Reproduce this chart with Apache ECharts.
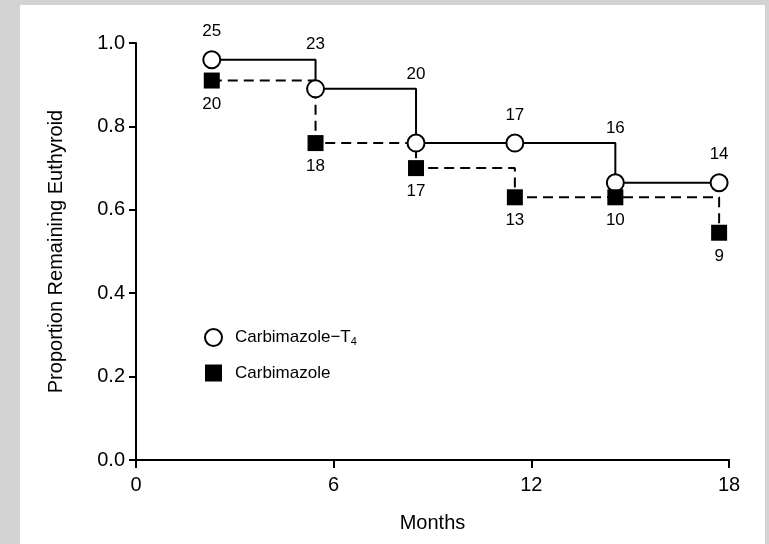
<!DOCTYPE html>
<html>
<head>
<meta charset="utf-8">
<script src="https://cdn.jsdelivr.net/npm/echarts@6/dist/echarts.min.js"></script>
<style>
  html, body { margin: 0; padding: 0; background: #d3d3d3; }
  #chart { position: absolute; left: 20px; top: 5px; width: 745px; height: 539px; background: #fff; }
</style>
</head>
<body>
<div id="chart"></div>
<script>
// months of each follow-up point
const months = [2.3, 5.45, 8.5, 11.5, 14.55, 17.7]
// proportion remaining euthyroid
const carbT4 = [0.96, 0.89, 0.76, 0.76, 0.665, 0.665]
const carb = [0.91, 0.76, 0.70, 0.63, 0.63, 0.545]
// numbers at risk
const nT4 = [25, 23, 20, 17, 16, 14]
const nCarb = [20, 18, 17, 13, 10, 9]
const xTicks = [0, 6, 12, 18]
const yTicks = [0, 0.2, 0.4, 0.6, 0.8, 1.0]

const font = 'Liberation Sans, Arial, sans-serif'
const ink = '#000'

const chart = echarts.init(document.getElementById('chart'))

// labels for the T4 group sit above the step (above the previous level when it drops)
const t4Labels = months.map((m, i) => {
  const drop = i > 0 && carbT4[i - 1] > carbT4[i]
  return {
    value: [m, drop ? carbT4[i - 1] : carbT4[i], nT4[i]],
    label: { distance: drop ? 6 : 19 }
  }
})

chart.setOption({
  animation: false,
  textStyle: { fontFamily: font },
  grid: { left: 116, right: 36, top: 38, bottom: 84 },
  legend: {
    orient: 'vertical',
    left: 184,
    top: 323,
    padding: 0,
    itemWidth: 17,
    itemHeight: 17,
    itemGap: 17,
    textStyle: {
      fontFamily: font, fontSize: 17, color: ink, padding: [0, 0, 0, 8],
      rich: { sub: { fontFamily: font, fontSize: 11, color: ink, verticalAlign: 'bottom', padding: [9, 0, 0, 0] } }
    },
    formatter: name => name === 'Carbimazole-T4' ? 'Carbimazole\u2212T{sub|4}' : name,
    data: ['Carbimazole-T4', 'Carbimazole']
  },
  xAxis: {
    type: 'value',
    min: xTicks[0],
    max: xTicks[xTicks.length - 1],
    interval: 6,
    name: 'Months',
    nameLocation: 'middle',
    nameGap: 53,
    nameTextStyle: { fontFamily: font, fontSize: 20, color: ink },
    axisLine: { onZero: false, lineStyle: { color: ink, width: 2 } },
    axisTick: { length: 8, lineStyle: { color: ink, width: 2 } },
    axisLabel: { fontFamily: font, fontSize: 20, color: ink, margin: 15 },
    splitLine: { show: false }
  },
  yAxis: {
    type: 'value',
    min: yTicks[0],
    max: yTicks[yTicks.length - 1],
    interval: 0.2,
    name: 'Proportion Remaining Euthyroid',
    nameLocation: 'middle',
    nameGap: 70,
    nameTextStyle: { fontFamily: font, fontSize: 20, color: ink },
    axisLine: { show: true, lineStyle: { color: ink, width: 2 } },
    axisTick: { show: true, length: 7, lineStyle: { color: ink, width: 2 } },
    axisLabel: { fontFamily: font, fontSize: 20, color: ink, margin: 11, formatter: v => v.toFixed(1) },
    splitLine: { show: false }
  },
  series: [
    {
      name: 'carb-line',
      type: 'line',
      step: 'end',
      showSymbol: false,
      z: 2,
      data: months.map((m, i) => [m, carb[i]]),
      lineStyle: { color: ink, width: 2, type: [10, 6] }
    },
    {
      name: 't4-line',
      type: 'line',
      step: 'end',
      showSymbol: false,
      z: 3,
      data: months.map((m, i) => [m, carbT4[i]]),
      lineStyle: { color: ink, width: 2 }
    },
    {
      name: 'Carbimazole-T4',
      type: 'scatter',
      z: 4,
      symbol: 'circle',
      symbolSize: 17,
      data: months.map((m, i) => [m, carbT4[i]]),
      itemStyle: { color: '#fff', borderColor: ink, borderWidth: 2, opacity: 1 }
    },
    {
      name: 'Carbimazole',
      type: 'scatter',
      z: 5,
      symbol: 'rect',
      symbolSize: 16,
      data: months.map((m, i) => [m, carb[i], nCarb[i]]),
      itemStyle: { color: '#000', opacity: 1 },
      label: {
        show: true,
        position: 'bottom',
        distance: 7,
        fontFamily: font,
        fontSize: 17,
        color: ink,
        formatter: p => p.value[2]
      }
    },
    {
      name: 't4-labels',
      type: 'scatter',
      z: 6,
      symbolSize: 1,
      silent: true,
      data: t4Labels,
      itemStyle: { color: 'rgba(0,0,0,0)', opacity: 1 },
      label: {
        show: true,
        position: 'top',
        fontFamily: font,
        fontSize: 17,
        color: ink,
        formatter: p => p.value[2]
      }
    }
  ]
})
</script>
</body>
</html>
